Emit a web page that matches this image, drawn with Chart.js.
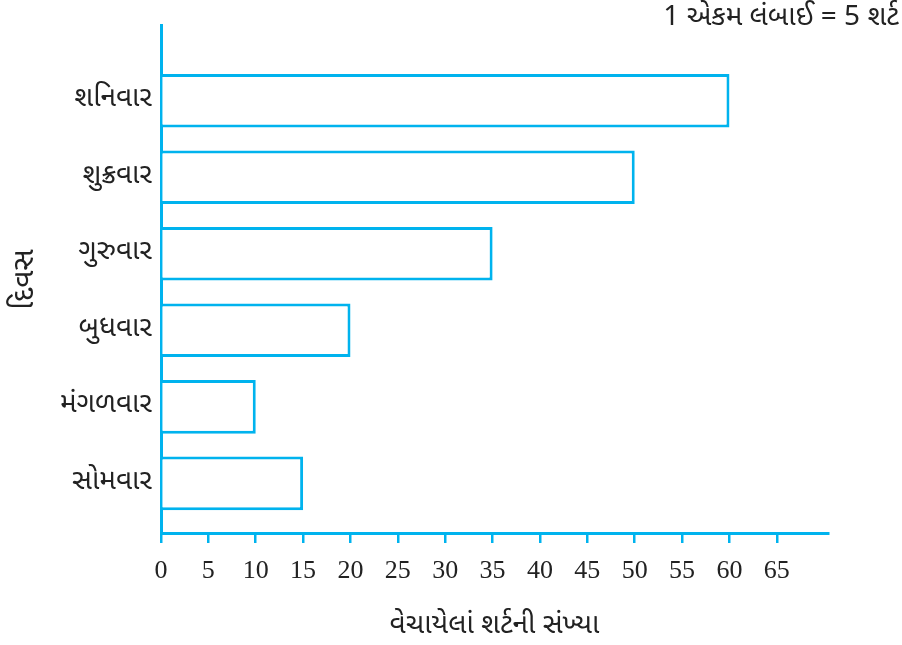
<!DOCTYPE html>
<html>
<head>
<meta charset="utf-8">
<script src="https://cdn.jsdelivr.net/npm/chart.js@4.4.1/dist/chart.umd.min.js"></script>
<style>
  html, body { margin: 0; padding: 0; background: #fff; }
  #wrap { width: 902px; height: 645px; }
</style>
</head>
<body>
<div id="wrap"><canvas id="chart" width="902" height="645"></canvas></div>
<script>
// days listed top to bottom as in the picture
const days = ['શનિવાર', 'શુક્રવાર', 'ગુરુવાર', 'બુધવાર', 'મંગળવાર', 'સોમવાર'];
const shirtsSold = [60, 50, 35, 20, 10, 15];
const xTicks = [0, 5, 10, 15, 20, 25, 30, 35, 40, 45, 50, 55, 60, 65];
const noteText = '1 એકમ લંબાઈ = 5 શર્ટ';
const xTitle = 'વેચાયેલાં શર્ટની સંખ્યા';
const yTitle = 'દિવસ';

const cyan = '#00b3ee';
const guFont = '"Noto Sans Gujarati", "Lohit Gujarati", "Noto Sans", sans-serif';
const numFont = '"Liberation Serif", "DejaVu Serif", serif';

// top day gets highest position on a linear y axis
const n = days.length;
const points = shirtsSold.map((v, i) => ({ x: v, y: n - 1 - i }));

const notePlugin = {
    id: 'note',
    afterDraw(chart) {
        const ctx = chart.ctx;
        ctx.save();
        ctx.fillStyle = '#222';
        ctx.font = '28px ' + guFont;
        ctx.textAlign = 'right';
        ctx.textBaseline = 'middle';
        ctx.fillText(noteText, 899, 20);
        ctx.restore();
    }
};

new Chart(document.getElementById('chart'), {
    type: 'bar',
    data: {
        datasets: [{
            data: points,
            backgroundColor: '#ffffff',
            borderColor: cyan,
            borderWidth: 3,
            barPercentage: 0.78,
            categoryPercentage: 0.9
        }]
    },
    options: {
        indexAxis: 'y',
        responsive: false,
        animation: false,
        layout: { padding: { top: 22, right: 74, left: 0, bottom: 0 } },
        plugins: {
            legend: { display: false },
            tooltip: { enabled: false }
        },
        scales: {
            x: {
                type: 'linear',
                min: 0,
                max: 70.4,
                offset: false,
                afterBuildTicks: (scale) => {
                    scale.ticks = xTicks.map(v => ({ value: v }));
                },
                afterFit: (scale) => { scale.height = 112; },
                border: { display: true, color: cyan, width: 3 },
                grid: {
                    display: true,
                    drawOnChartArea: false,
                    drawTicks: true,
                    tickLength: 10,
                    color: cyan,
                    lineWidth: 2.5
                },
                ticks: {
                    color: '#222',
                    font: { family: numFont, size: 26 },
                    padding: 13,
                    maxRotation: 0,
                    autoSkip: false
                },
                title: {
                    display: true,
                    text: xTitle,
                    color: '#222',
                    font: { family: guFont, size: 28 },
                    padding: { top: 0, bottom: 0 }
                }
            },
            y: {
                type: 'linear',
                min: -0.65,
                max: 5.98,
                offset: false,
                afterBuildTicks: (scale) => {
                    scale.ticks = days.map((d, i) => ({ value: n - 1 - i }));
                },
                afterFit: (scale) => { scale.width = 161; },
                border: { display: true, color: cyan, width: 3 },
                grid: { display: false, drawTicks: false },
                ticks: {
                    color: '#222',
                    font: { family: guFont, size: 28 },
                    padding: 9,
                    autoSkip: false,
                    callback: (value) => days[n - 1 - value]
                },
                title: {
                    display: true,
                    text: yTitle,
                    color: '#222',
                    font: { family: guFont, size: 30 },
                    padding: { top: 9, bottom: 0 }
                }
            }
        }
    },
    plugins: [notePlugin]
});
</script>
</body>
</html>
